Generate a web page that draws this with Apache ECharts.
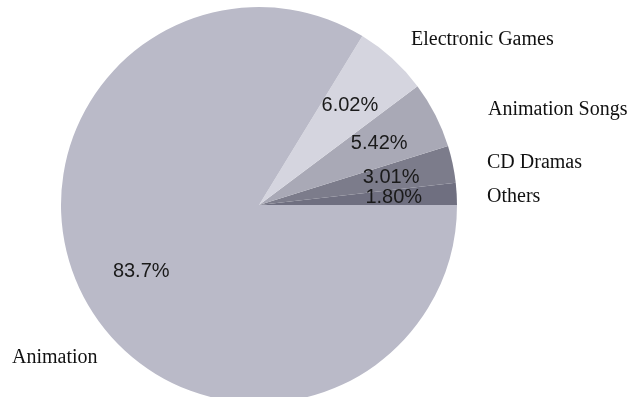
<!DOCTYPE html>
<html>
<head>
<meta charset="utf-8">
<script src="https://cdn.jsdelivr.net/npm/echarts@6/dist/echarts.min.js"></script>
<style>
html,body{margin:0;padding:0;background:#fff;}
#c{width:635px;height:397px;}
</style>
</head>
<body>
<div id="c"></div>
<script>
var categories = ['Others', 'CD Dramas', 'Animation Songs', 'Electronic Games', 'Animation'];
var values = [1.80, 3.01, 5.42, 6.02, 83.7];
var percentLabels = ['1.80%', '3.01%', '5.42%', '6.02%', '83.7%'];
var colors = ['#6f6f80', '#7c7c8b', '#a9a9b6', '#d5d5df', '#babac8'];
var outerLabelPos = [[487, 197], [487, 163], [488, 110], [411, 40], [12, 358]];

var chart = echarts.init(document.getElementById('c'), null, {renderer: 'canvas'});
var mainData = categories.map(function (n, i) {
  return {name: n, value: values[i], itemStyle: {color: colors[i]}};
});
var labelData = categories.map(function (n, i) {
  return {name: n, value: values[i]};
});
chart.setOption({
  animation: false,
  series: [
    {
      type: 'pie',
      center: [259, 205],
      radius: [0, 198],
      startAngle: 0,
      clockwise: false,
      silent: true,
      data: mainData,
      label: {
        show: true,
        position: 'outside',
        formatter: '{b}',
        fontFamily: 'Liberation Serif',
        fontSize: 20,
        color: '#111',
        overflow: 'none'
      },
      labelLine: {show: false},
      labelLayout: function (p) {
        var pos = outerLabelPos[p.dataIndex];
        return {x: pos[0], y: pos[1], align: 'left', verticalAlign: 'middle', width: 300};
      }
    },
    {
      type: 'pie',
      center: [259, 205],
      radius: [66, 198],
      startAngle: 0,
      clockwise: false,
      silent: true,
      data: labelData,
      itemStyle: {color: 'rgba(0,0,0,0)'},
      label: {
        show: true,
        position: 'inside',
        formatter: function (p) { return percentLabels[p.dataIndex]; },
        fontFamily: 'Liberation Sans',
        fontSize: 20,
        color: '#1a1a1a'
      },
      labelLine: {show: false}
    }
  ]
});
</script>
</body>
</html>
